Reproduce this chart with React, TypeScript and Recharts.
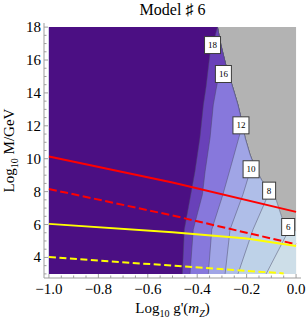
import { ComposedChart, Area, Line, Scatter, XAxis, YAxis } from 'recharts'

type Pt = { y: number; x: number }

const FONT = '"Liberation Serif", "Times New Roman", serif'
const FRAME = '#9d9d9d'
const CONTOUR = '#4a4a66'

const xMajor = [-1, -0.8, -0.6, -0.4, -0.2, 0]
const xTicks = [
  -1, -0.95, -0.9, -0.85, -0.8, -0.75, -0.7, -0.65, -0.6, -0.55, -0.5,
  -0.45, -0.4, -0.35, -0.3, -0.25, -0.2, -0.15, -0.1, -0.05, 0,
]
const yMajor = [4, 6, 8, 10, 12, 14, 16, 18]
const yTicks = [
  3, 3.5, 4, 4.5, 5, 5.5, 6, 6.5, 7, 7.5, 8, 8.5, 9, 9.5, 10, 10.5, 11,
  11.5, 12, 12.5, 13, 13.5, 14, 14.5, 15, 15.5, 16, 16.5, 17, 17.5, 18,
]

// edge of the region where contours exist (grey to the right of it)
const envelope: Pt[] = [
  { y: 5.58, x: 0 },
  { y: 5.94, x: -0.028 },
  { y: 6.42, x: -0.057 },
  { y: 7.52, x: -0.081 },
  { y: 8.12, x: -0.105 },
  { y: 8.67, x: -0.138 },
  { y: 9.33, x: -0.162 },
  { y: 10.24, x: -0.186 },
  { y: 11.27, x: -0.206 },
  { y: 12.24, x: -0.219 },
  { y: 13.27, x: -0.235 },
  { y: 14.48, x: -0.259 },
  { y: 15.64, x: -0.283 },
  { y: 16.91, x: -0.304 },
  { y: 18, x: -0.318 },
]

// contour lines, bottom to top
const contour18: Pt[] = [
  { y: 3, x: -0.46 },
  { y: 5.7, x: -0.452 },
  { y: 7.82, x: -0.426 },
  { y: 9.23, x: -0.409 },
  { y: 11.27, x: -0.389 },
  { y: 13.27, x: -0.375 },
  { y: 14.38, x: -0.364 },
  { y: 16.42, x: -0.348 },
  { y: 17.21, x: -0.332 },
]
const contour16: Pt[] = [
  { y: 3, x: -0.429 },
  { y: 5.7, x: -0.416 },
  { y: 7.82, x: -0.379 },
  { y: 9.23, x: -0.368 },
  { y: 11.27, x: -0.348 },
  { y: 13.27, x: -0.335 },
  { y: 14.18, x: -0.324 },
  { y: 14.79, x: -0.316 },
]
const contour12: Pt[] = [
  { y: 3, x: -0.355 },
  { y: 5.7, x: -0.341 },
  { y: 7.82, x: -0.296 },
  { y: 9.74, x: -0.26 },
  { y: 11.52, x: -0.227 },
]
const contour10: Pt[] = [
  { y: 3, x: -0.287 },
  { y: 5.7, x: -0.267 },
  { y: 7.82, x: -0.215 },
  { y: 8.85, x: -0.194 },
]
const contour8: Pt[] = [
  { y: 3, x: -0.235 },
  { y: 5.7, x: -0.174 },
  { y: 7.52, x: -0.121 },
]
const contour6: Pt[] = [
  { y: 3, x: -0.121 },
  { y: 5.58, x: -0.032 },
]
const rightEdge: Pt[] = [
  { y: 3, x: 0 },
  { y: 5.58, x: 0 },
]
const wholePlot: Pt[] = [
  { y: 3, x: 0 },
  { y: 18, x: 0 },
]

const bandEdges = [rightEdge, contour6, contour8, contour10, contour12, contour16, contour18]
const bandColors = ['#cddee8', '#bed2e8', '#afbee8', '#a0a5e6', '#8778dc', '#6941b9', '#4b0f83']

const contourLabels = [
  { x: -0.338, y: 16.91, text: '18' },
  { x: -0.294, y: 15.15, text: '16' },
  { x: -0.223, y: 12.03, text: '12' },
  { x: -0.182, y: 9.36, text: '10' },
  { x: -0.109, y: 8.06, text: '8' },
  { x: -0.032, y: 5.85, text: '6' },
]

const redSolid = [
  { x: -1, y: 10.14 },
  { x: -0.5, y: 8.55 },
  { x: 0, y: 6.77 },
]
const redDashed = [
  { x: -1, y: 8.16 },
  { x: -0.5, y: 6.55 },
  { x: 0, y: 4.8 },
]
const yellowSolid = [
  { x: -1, y: 6.04 },
  { x: -0.5, y: 5.53 },
  { x: -0.2, y: 5.15 },
  { x: 0, y: 4.69 },
]
const yellowDashed = [
  { x: -1, y: 4.02 },
  { x: -0.5, y: 3.5 },
  { x: -0.05, y: 3.03 },
]

// contour edge + the part of the envelope above it
function band(edge: Pt[]): Pt[] {
  const top = edge[edge.length - 1].y
  return [...edge, ...envelope.filter((p) => p.y > top)]
}

const near = (a: number, list: number[]) => list.some((b) => Math.abs(a - b) < 1e-6)
const fmtX = (v: number) => (v < 0 ? '\u2212' + Math.abs(v).toFixed(1) : v.toFixed(1))

function XTick({ x, y, payload, top }: any) {
  const major = near(payload.value, xMajor)
  const len = major ? 4 : 2.5
  const dir = top ? 1 : -1
  return (
    <g>
      <line x1={x} x2={x} y1={y} y2={y + dir * len} stroke={FRAME} />
      {major && !top && (
        <text x={x} y={y + 15.5} textAnchor="middle" fontSize={15} fontFamily={FONT} fill="#000">
          {fmtX(payload.value)}
        </text>
      )}
    </g>
  )
}

function YTick({ x, y, payload, right }: any) {
  const major = near(payload.value, yMajor)
  const len = major ? 4 : 2.5
  const dir = right ? -1 : 1
  return (
    <g>
      <line x1={x} x2={x + dir * len} y1={y} y2={y} stroke={FRAME} />
      {major && !right && (
        <text x={x - 3} y={y + 5} textAnchor="end" fontSize={15} fontFamily={FONT} fill="#000">
          {payload.value}
        </text>
      )}
    </g>
  )
}

function LabelBox({ cx, cy, payload }: any) {
  const w = payload.text.length > 1 ? 16 : 13
  const h = 17
  return (
    <g>
      <rect x={cx - w / 2} y={cy - h / 2} width={w} height={h} fill="#fff" stroke="#3c3c3c" strokeWidth={1} />
      <text x={cx} y={cy + 3} textAnchor="middle" fontSize={9} fontFamily={FONT} fill="#000">
        {payload.text}
      </text>
    </g>
  )
}

export default function App() {
  const xDomain = [-1.02, 0.02]
  const yDomain = [2.75, 18.25]
  return (
    <div style={{ position: 'absolute', left: 0, top: 0, width: 307, height: 325, background: '#fff' }}>
      <ComposedChart
        width={307}
        height={325}
        layout="vertical"
        margin={{ top: 23, right: 6, bottom: 17, left: 4 }}
      >
        <XAxis
          type="number"
          dataKey="x"
          domain={xDomain}
          allowDataOverflow
          ticks={xTicks}
          interval={0}
          height={30}
          tickSize={0}
          tickMargin={0}
          tickLine={false}
          axisLine={{ stroke: FRAME }}
          tick={(p: any) => <XTick {...p} />}
        />
        <XAxis
          xAxisId="top"
          orientation="top"
          type="number"
          dataKey="x"
          domain={xDomain}
          allowDataOverflow
          ticks={xTicks}
          interval={0}
          height={0}
          tickSize={0}
          tickMargin={0}
          tickLine={false}
          axisLine={{ stroke: FRAME }}
          tick={(p: any) => <XTick {...p} top />}
        />
        <YAxis
          type="number"
          dataKey="y"
          reversed
          domain={yDomain}
          allowDataOverflow
          ticks={yTicks}
          interval={0}
          width={40}
          tickSize={0}
          tickMargin={0}
          tickLine={false}
          axisLine={{ stroke: FRAME }}
          tick={(p: any) => <YTick {...p} />}
        />
        <YAxis
          yAxisId="right"
          orientation="right"
          type="number"
          dataKey="y"
          reversed
          domain={yDomain}
          allowDataOverflow
          ticks={yTicks}
          interval={0}
          width={0}
          tickSize={0}
          tickMargin={0}
          tickLine={false}
          axisLine={{ stroke: FRAME }}
          tick={(p: any) => <YTick {...p} right />}
        />

        <Area
          data={wholePlot}
          dataKey="x"
          type="linear"
          baseValue={-1}
          fill="#b3b3b3"
          fillOpacity={1}
          stroke="none"
          isAnimationActive={false}
        />
        {bandEdges.map((edge, i) => (
          <Area
            key={i}
            data={band(edge)}
            dataKey="x"
            type="linear"
            baseValue={-1}
            fill={bandColors[i]}
            fillOpacity={1}
            stroke={i === 0 ? 'none' : CONTOUR}
            strokeOpacity={0.6}
            strokeWidth={0.8}
            isAnimationActive={false}
          />
        ))}

        <Line data={redSolid} dataKey="x" type="linear" stroke="#ff0000" strokeWidth={2} dot={false} isAnimationActive={false} />
        <Line data={redDashed} dataKey="x" type="linear" stroke="#ff0000" strokeWidth={2} strokeDasharray="8 3.5" dot={false} isAnimationActive={false} />
        <Line data={yellowSolid} dataKey="x" type="linear" stroke="#ffff00" strokeWidth={2} dot={false} isAnimationActive={false} />
        <Line data={yellowDashed} dataKey="x" type="linear" stroke="#ffff00" strokeWidth={2} strokeDasharray="7 3.5" dot={false} isAnimationActive={false} />

        <Scatter data={contourLabels} dataKey="x" shape={(p: any) => <LabelBox {...p} />} isAnimationActive={false} />
      </ComposedChart>

      <svg width={307} height={325} style={{ position: 'absolute', left: 0, top: 0, pointerEvents: 'none' }}>
        <text x={172.5} y={15} textAnchor="middle" fontSize={16} fontFamily={FONT} fill="#000">
          Model ♯ 6
        </text>
        <text transform="translate(14,150.5) rotate(-90)" textAnchor="middle" fontSize={15} fontFamily={FONT} fill="#000">
          Log<tspan fontSize={10} dy={4}>10</tspan>
          <tspan dy={-4}> M/GeV</tspan>
        </text>
        <text x={172.5} y={313} textAnchor="middle" fontSize={15} fontFamily={FONT} fill="#000">
          Log<tspan fontSize={10} dy={4}>10</tspan>
          <tspan dy={-4}> g'(</tspan>
          <tspan fontStyle="italic">m</tspan>
          <tspan fontStyle="italic" fontSize={10} dy={4}>Z</tspan>
          <tspan dy={-4}>)</tspan>
        </text>
      </svg>
    </div>
  )
}
